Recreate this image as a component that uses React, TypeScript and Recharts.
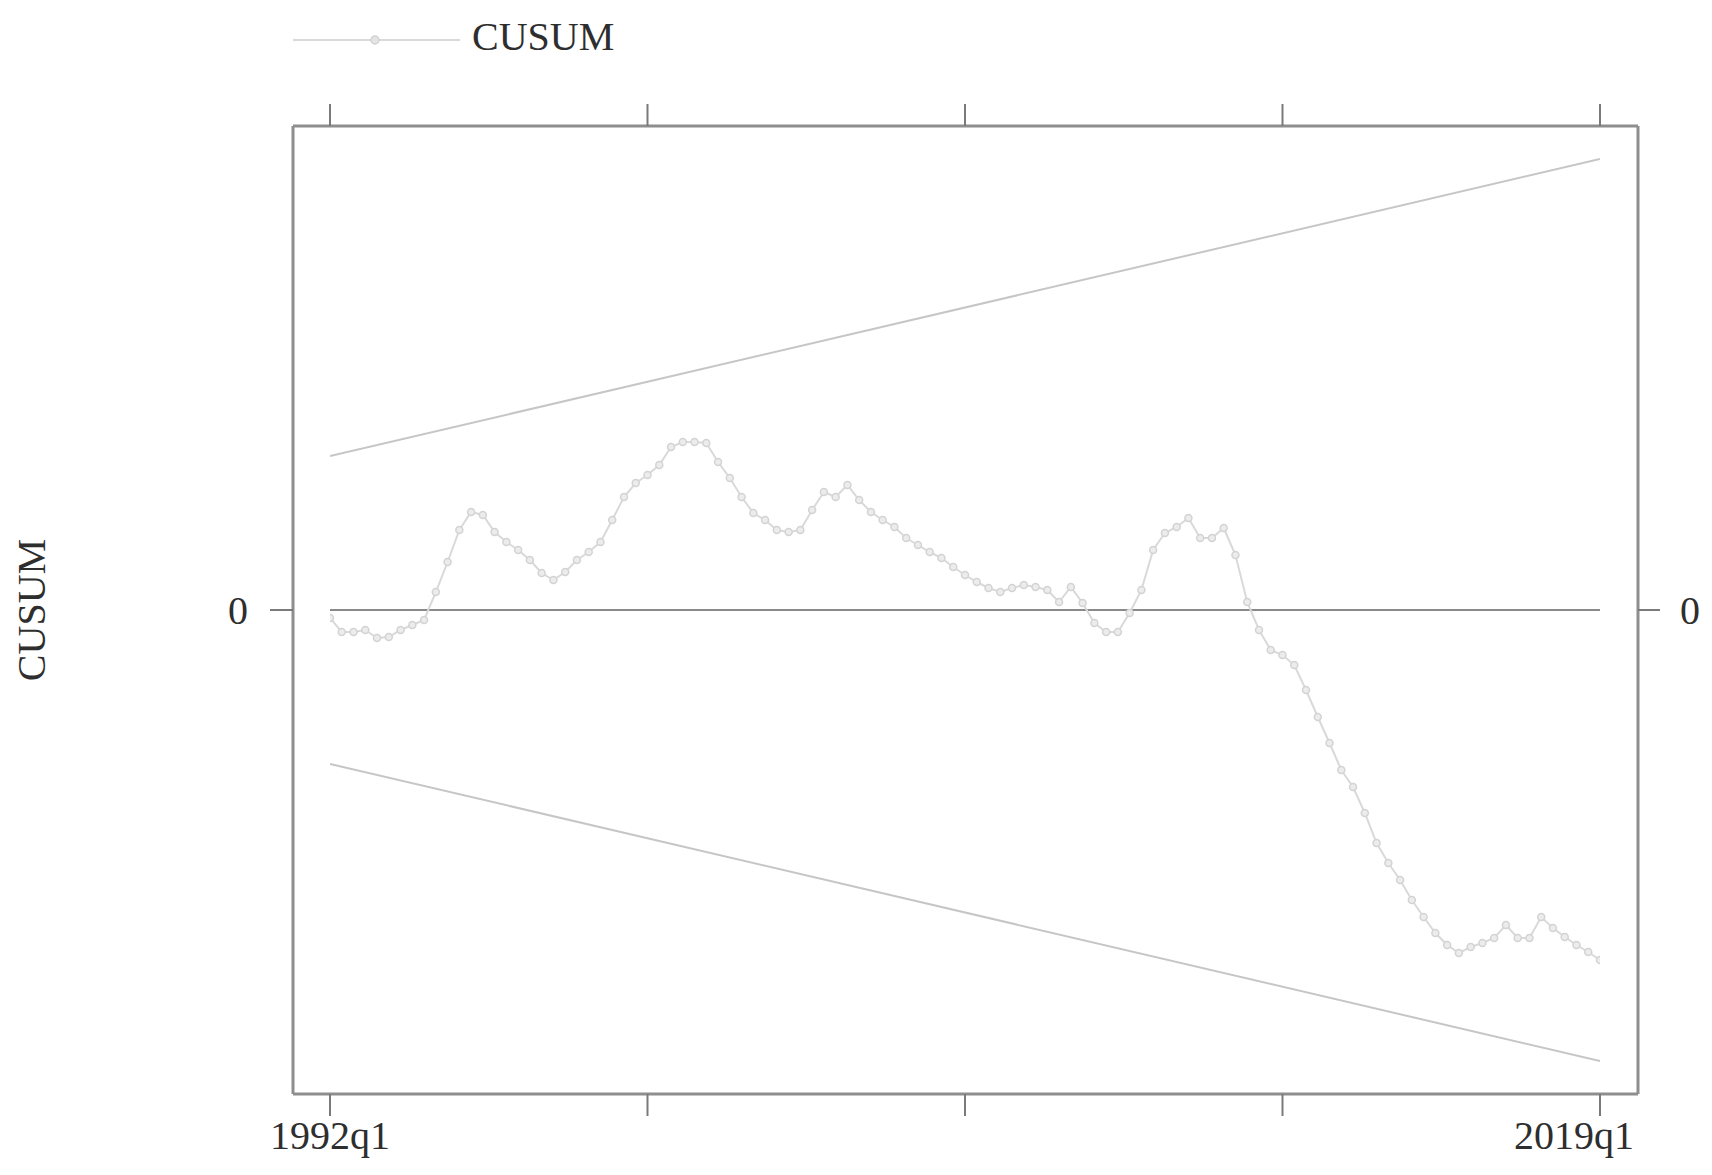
import React from "react";
import {
  LineChart,
  Line,
  XAxis,
  YAxis,
  ReferenceLine,
  Legend,
} from "recharts";

// CUSUM values, one per quarter from 1992q1 (index 0) to 2019q1 (index 108)
const cusumValues: number[] = [
  -0.8, -2.2, -2.2, -2.0, -2.8, -2.7, -2.0, -1.5, -1.0, 1.8,
  4.8, 8.0, 9.8, 9.5, 7.8, 6.8, 6.0, 5.0, 3.7, 3.0,
  3.8, 5.0, 5.8, 6.8, 9.0, 11.3, 12.7, 13.5, 14.5, 16.3,
  16.8, 16.8, 16.7, 14.8, 13.2, 11.3, 9.7, 9.0, 8.0, 7.8,
  8.0, 10.0, 11.8, 11.3, 12.5, 11.0, 9.8, 9.0, 8.3, 7.2,
  6.5, 5.8, 5.2, 4.3, 3.5, 2.8, 2.2, 1.8, 2.2, 2.5,
  2.3, 2.0, 0.8, 2.3, 0.7, -1.3, -2.2, -2.2, -0.3, 2.0,
  6.0, 7.7, 8.3, 9.2, 7.2, 7.2, 8.2, 5.5, 0.8, -2.0,
  -4.0, -4.5, -5.5, -8.0, -10.7, -13.3, -16.0, -17.7, -20.3, -23.3,
  -25.3, -27.0, -29.0, -30.7, -32.3, -33.5, -34.3, -33.7, -33.3, -32.8,
  -31.5, -32.8, -32.8, -30.7, -31.8, -32.7, -33.5, -34.2, -35.0,
];

// Bound lines: endpoints (index, value)
const boundIndex: number[] = [0, 108];
const upperBound: number[] = [15.4, 45.1];
const lowerBound: number[] = [-15.4, -45.1];

// x ticks (quarter index) and their labels
const xTicks: number[] = [0, 27, 54, 81, 108];
const xTickLabels: string[] = ["1992q1", "", "", "", "2019q1"];

const yDomain: [number, number] = [-48.4, 48.4];
const yTicks: number[] = [0];

const data = cusumValues.map((v, i) => ({ t: i, cusum: v }));
const upperData = boundIndex.map((t, i) => ({ t, v: upperBound[i] }));
const lowerData = boundIndex.map((t, i) => ({ t, v: lowerBound[i] }));

const FONT = "'Liberation Serif', 'Times New Roman', serif";
const TEXT_COLOR = "#2e2e2e";
const AXIS_COLOR = "#8e8e8e";
const TICK_COLOR = "#7a7a7a";
const CUSUM_COLOR = "#d9d9d9";
const BOUND_COLOR = "#c6c6c6";
const ZERO_COLOR = "#8a8a8a";

const BottomTick = (props: any) => {
  const { x, y, payload } = props;
  const idx = xTicks.indexOf(payload.value);
  const label = idx >= 0 ? xTickLabels[idx] : "";
  if (!label) return <g />;
  const isLast = idx === xTicks.length - 1;
  return (
    <text
      x={isLast ? x + 34 : x}
      y={y}
      dy="0.71em"
      textAnchor={isLast ? "end" : "middle"}
      fontFamily={FONT}
      fontSize={40}
      fill={TEXT_COLOR}
    >
      {label}
    </text>
  );
};

const EmptyTick = () => <g />;

const LeftTick = (props: any) => {
  const { x, y, payload } = props;
  return (
    <text
      x={x}
      y={y}
      dy="0.35em"
      textAnchor="end"
      fontFamily={FONT}
      fontSize={40}
      fill={TEXT_COLOR}
    >
      {payload.value}
    </text>
  );
};

const RightTick = (props: any) => {
  const { x, y, payload } = props;
  return (
    <text
      x={x}
      y={y}
      dy="0.35em"
      textAnchor="start"
      fontFamily={FONT}
      fontSize={40}
      fill={TEXT_COLOR}
    >
      {payload.value}
    </text>
  );
};

const YLabel = (props: any) => {
  const vb = props.viewBox || { x: 0, y: 0, width: 0, height: 0 };
  const cx = vb.x + 31;
  const cy = vb.y + vb.height / 2;
  return (
    <text
      x={cx}
      y={cy}
      transform={`rotate(-90 ${cx} ${cy})`}
      textAnchor="middle"
      dominantBaseline="central"
      fontFamily={FONT}
      fontSize={40}
      fill={TEXT_COLOR}
    >
      CUSUM
    </text>
  );
};

const LegendContent = () => (
  <svg width={360} height={70} style={{ display: "block" }}>
    <line x1={8} y1={40} x2={175} y2={40} stroke={CUSUM_COLOR} strokeWidth={2} />
    <circle cx={90} cy={40} r={4} fill="#e4e4e4" stroke="#d2d2d2" strokeWidth={1.5} />
    <text
      x={187}
      y={50}
      fontFamily={FONT}
      fontSize={40}
      fill={TEXT_COLOR}
    >
      CUSUM
    </text>
  </svg>
);

export default function App() {
  return (
    <div
      style={{
        position: "absolute",
        left: 0,
        top: 0,
        width: 1712,
        height: 1175,
        background: "#ffffff",
      }}
    >
      <LineChart
        width={1712}
        height={1175}
        data={data}
        margin={{ top: 86, right: 0, bottom: 11, left: 0 }}
      >
        <XAxis
          xAxisId="bottom"
          dataKey="t"
          type="number"
          domain={[0, 108]}
          ticks={xTicks}
          padding={{ left: 37, right: 38 }}
          orientation="bottom"
          height={70}
          tickSize={22}
          tickMargin={5}
          tick={<BottomTick />}
          axisLine={{ stroke: AXIS_COLOR, strokeWidth: 3 }}
          tickLine={{ stroke: TICK_COLOR, strokeWidth: 2 }}
          allowDataOverflow
        />
        <XAxis
          xAxisId="top"
          dataKey="t"
          type="number"
          domain={[0, 108]}
          ticks={xTicks}
          padding={{ left: 37, right: 38 }}
          orientation="top"
          height={40}
          tickSize={22}
          tick={<EmptyTick />}
          axisLine={{ stroke: AXIS_COLOR, strokeWidth: 3 }}
          tickLine={{ stroke: TICK_COLOR, strokeWidth: 2 }}
          allowDataOverflow
        />
        <YAxis
          yAxisId="left"
          orientation="left"
          type="number"
          domain={yDomain}
          ticks={yTicks}
          width={293}
          tickSize={23}
          tickMargin={22}
          tick={<LeftTick />}
          axisLine={{ stroke: AXIS_COLOR, strokeWidth: 3 }}
          tickLine={{ stroke: TICK_COLOR, strokeWidth: 2 }}
          label={<YLabel />}
          allowDataOverflow
        />
        <YAxis
          yAxisId="right"
          orientation="right"
          type="number"
          domain={yDomain}
          ticks={yTicks}
          width={74}
          tickSize={22}
          tickMargin={20}
          tick={<RightTick />}
          axisLine={{ stroke: AXIS_COLOR, strokeWidth: 3 }}
          tickLine={{ stroke: TICK_COLOR, strokeWidth: 2 }}
          allowDataOverflow
        />
        <Legend
          layout="horizontal"
          verticalAlign="middle"
          align="center"
          content={<LegendContent />}
          wrapperStyle={{ top: 0, left: 285, width: 360, height: 70 }}
        />
        <Line
          xAxisId="bottom"
          yAxisId="left"
          data={upperData}
          dataKey="v"
          type="linear"
          stroke={BOUND_COLOR}
          strokeWidth={2}
          dot={false}
          activeDot={false}
          legendType="none"
          isAnimationActive={false}
        />
        <Line
          xAxisId="bottom"
          yAxisId="left"
          data={lowerData}
          dataKey="v"
          type="linear"
          stroke={BOUND_COLOR}
          strokeWidth={2}
          dot={false}
          activeDot={false}
          legendType="none"
          isAnimationActive={false}
        />
        <ReferenceLine
          xAxisId="bottom"
          yAxisId="left"
          segment={[
            { x: 0, y: 0 },
            { x: 108, y: 0 },
          ]}
          stroke={ZERO_COLOR}
          strokeWidth={2}
        />
        <Line
          xAxisId="bottom"
          yAxisId="left"
          dataKey="cusum"
          name="CUSUM"
          type="linear"
          stroke={CUSUM_COLOR}
          strokeWidth={2}
          dot={{ r: 3.5, fill: "#ececec", stroke: "#d3d3d3", strokeWidth: 1.5 }}
          activeDot={false}
          isAnimationActive={false}
        />
      </LineChart>
    </div>
  );
}
